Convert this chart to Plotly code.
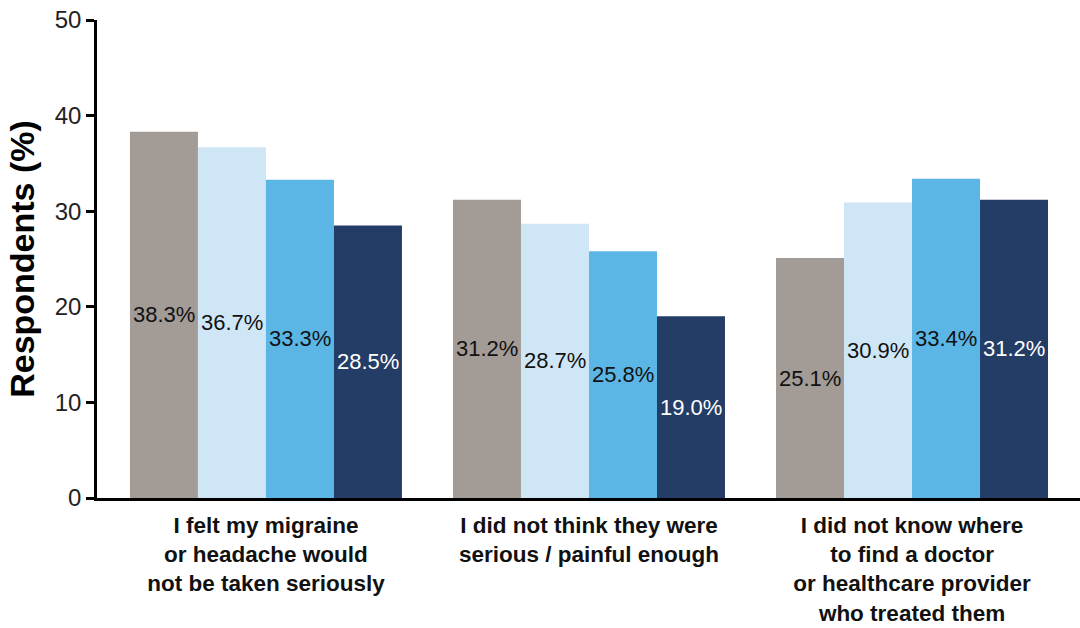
import plotly.graph_objects as go

categories = [
    "I felt my migraine<br>or headache would<br>not be taken seriously",
    "I did not think they were<br>serious / painful enough",
    "I did not know where<br>to find a doctor<br>or healthcare provider<br>who treated them",
]
series_names = ["Group 1", "Group 2", "Group 3", "Group 4"]
series_values = [
    [38.3, 31.2, 25.1],
    [36.7, 28.7, 30.9],
    [33.3, 25.8, 33.4],
    [28.5, 19.0, 31.2],
]
colors = ["#A39B96", "#CFE6F6", "#5BB6E6", "#243D66"]
text_colors = ["#111111", "#111111", "#111111", "#FFFFFF"]
y_ticks = [0, 10, 20, 30, 40, 50]

bargap = 0.158
n_series = len(series_values)
bar_w = (1 - bargap) / n_series

fig = go.Figure()
for name, vals, col in zip(series_names, series_values, colors):
    fig.add_trace(go.Bar(
        x=categories, y=vals, name=name,
        marker=dict(color=col, line=dict(width=0)),
        textposition="none",
        showlegend=False,
    ))

# value labels centred inside each bar (positions derived from the group layout)
for i, (vals, tcol) in enumerate(zip(series_values, text_colors)):
    offset = -(1 - bargap) / 2 + bar_w * (i + 0.5)
    for j, v in enumerate(vals):
        fig.add_annotation(
            x=j + offset, y=v / 2, xref="x", yref="y",
            text=f"{v:.1f}%", showarrow=False,
            xanchor="center", yanchor="middle",
            font=dict(family="Liberation Sans, Arial", size=22, color=tcol),
        )

fig.update_layout(
    barmode="group", bargap=bargap, bargroupgap=0,
    width=1080, height=628,
    margin=dict(l=97, r=0, t=20, b=130, autoexpand=False),
    plot_bgcolor="white", paper_bgcolor="white",
    font=dict(family="Liberation Sans, Arial", color="#111111"),
)
fig.update_xaxes(
    range=[-0.523, 2.52], showline=True, linecolor="black", linewidth=2.5,
    ticks="", showgrid=False, ticklabelstandoff=5, automargin=False,
    tickfont=dict(size=22.5, color="#111111", family="Liberation Sans, Arial", weight="bold"),
)
fig.update_yaxes(
    range=[0, 50], tickvals=y_ticks, showline=True, linecolor="black", linewidth=2.5,
    ticks="outside", ticklen=8, tickwidth=2.5, tickcolor="black", showgrid=False, zeroline=False,
    automargin=False,
    tickfont=dict(size=24, color="#222222"),
    title=dict(text="<b>Respondents (%)</b>", font=dict(size=34, color="black"), standoff=10),
)
fig.write_html("out.html")
